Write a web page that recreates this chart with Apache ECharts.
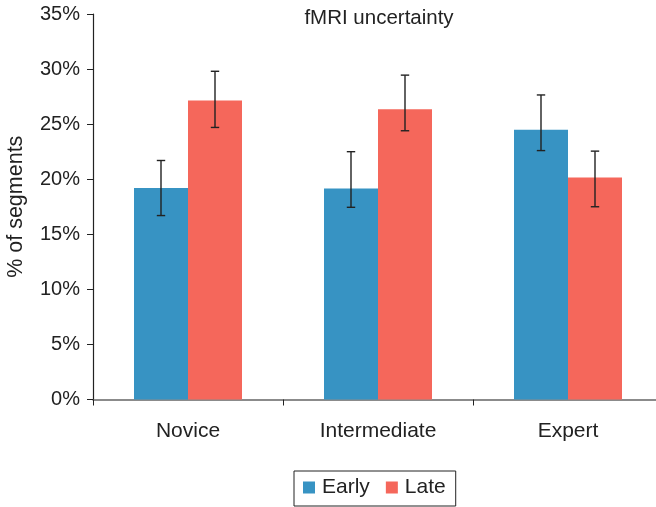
<!DOCTYPE html>
<html><head><meta charset="utf-8">
<script src="https://cdn.jsdelivr.net/npm/echarts@6/dist/echarts.min.js"></script>
<style>html,body{margin:0;padding:0;background:#fff}#c{width:656px;height:507px}</style>
</head><body><div id="c"></div>
<script>
const categories = ['Novice', 'Intermediate', 'Expert'];
const early = [19.2, 19.15, 24.5];
const late = [27.15, 26.35, 20.15];
const earlyLow = [16.7, 17.45, 22.6];
const earlyHigh = [21.7, 22.5, 27.65];
const lateLow = [24.7, 24.4, 17.5];
const lateHigh = [29.8, 29.45, 22.55];
const yTicks = [0, 5, 10, 15, 20, 25, 30, 35];

const blue = '#3793c3', red = '#f5675b', ink = '#222';
const font = 'Liberation Sans, Arial, sans-serif';
const barW = 54;

function errSeries(low, high, side) {
  return {
    type: 'custom',
    silent: true,
    z: 5,
    data: categories.map((c, i) => [i, low[i], high[i]]),
    encode: { x: 0, y: [1, 2] },
    renderItem: function (params, api) {
      const i = api.value(0);
      const p1 = api.coord([i, api.value(1)]);
      const p2 = api.coord([i, api.value(2)]);
      const x = p1[0] + side * barW / 2;
      const cap = 4.2;
      const st = { stroke: ink, lineWidth: 1.4 };
      return { type: 'group', children: [
        { type: 'line', shape: { x1: x, y1: p1[1], x2: x, y2: p2[1] }, style: st },
        { type: 'line', shape: { x1: x - cap, y1: p1[1], x2: x + cap, y2: p1[1] }, style: st },
        { type: 'line', shape: { x1: x - cap, y1: p2[1], x2: x + cap, y2: p2[1] }, style: st }
      ]};
    }
  };
}

const chart = echarts.init(document.getElementById('c'), null, { renderer: 'canvas' });
chart.setOption({
  animation: false,
  textStyle: { fontFamily: font, color: ink },
  title: {
    text: 'fMRI uncertainty', left: 374, top: 3, textAlign: 'center',
    textStyle: { fontFamily: font, fontSize: 20.5, fontWeight: 'normal', color: ink }
  },
  legend: {
    data: ['Early', 'Late'], left: 294, top: 471, icon: 'rect',
    borderColor: ink, borderWidth: 1, padding: [6, 10, 8, 9],
    itemWidth: 12, itemHeight: 12, itemGap: 16,
    textStyle: { fontFamily: font, fontSize: 21, color: ink, padding: [0, 0, 0, 2] }
  },
  grid: { left: 93, top: 14, width: 570, height: 385.5, containLabel: false, outerBoundsMode: 'none' },
  xAxis: {
    type: 'category', data: categories,
    axisLine: { lineStyle: { color: '#666', width: 1.5 } },
    axisTick: { show: true, length: 6, lineStyle: { color: ink } },
    axisLabel: { fontFamily: font, fontSize: 21, color: ink, margin: 21 }
  },
  yAxis: {
    type: 'value', min: yTicks[0], max: yTicks[yTicks.length - 1], interval: 5,
    name: '% of segments', nameLocation: 'middle', nameRotate: 90, nameGap: 66,
    nameTextStyle: { fontFamily: font, fontSize: 21.5, color: ink },
    axisLine: { show: true, lineStyle: { color: ink, width: 1.2 } },
    axisTick: { show: true, length: 6, lineStyle: { color: ink } },
    splitLine: { show: false },
    axisLabel: { fontFamily: font, fontSize: 20, color: ink, margin: 13, formatter: '{value}%' }
  },
  series: [
    { name: 'Early', type: 'bar', data: early, barWidth: barW, barGap: '0%', itemStyle: { color: blue } },
    { name: 'Late', type: 'bar', data: late, barWidth: barW, barGap: '0%', itemStyle: { color: red } },
    errSeries(earlyLow, earlyHigh, -1),
    errSeries(lateLow, lateHigh, 1)
  ]
});
</script></body></html>
